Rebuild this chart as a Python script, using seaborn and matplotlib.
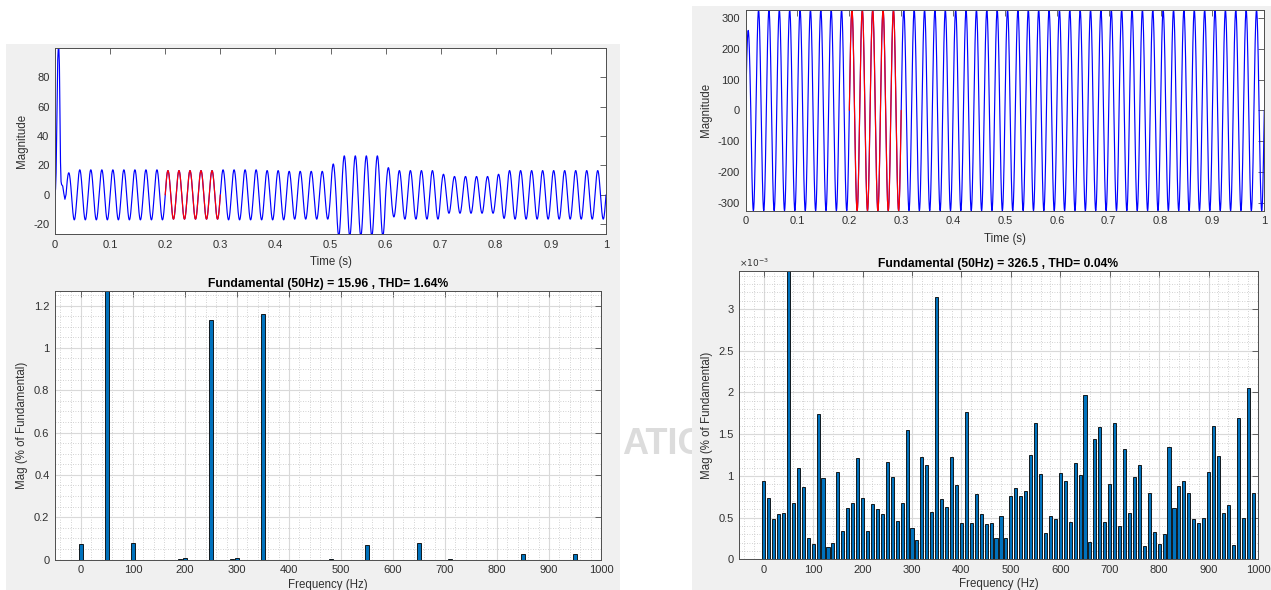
import numpy as np
import pandas as pd
import matplotlib
matplotlib.use("Agg")
import matplotlib.pyplot as plt
from matplotlib.patches import Rectangle
from matplotlib.ticker import MultipleLocator
import seaborn as sns

sns.set_theme(style="white")
plt.rcParams['font.family'] = ['Liberation Sans', 'DejaVu Sans']
plt.rcParams['axes.unicode_minus'] = False

# ---------------- data ----------------
# left signal: transient during the first cycle (t, value)
t_left_start = [0.000, 0.001, 0.002, 0.003, 0.004, 0.005, 0.006, 0.007, 0.008,
                0.009, 0.010, 0.011, 0.012, 0.014, 0.016, 0.018, 0.020]
y_left_start = [0, 4, 15, 40, 70, 92, 100, 100, 88, 55, 22, 9, 7, 6, 1, -3, 0]

# per-cycle (20 ms) peak / trough amplitudes, cycles 0..49 (cycle 0 = transient)
left_pos = [0, 15, 17, 17, 17, 17, 17, 17, 17, 17,
            16.5, 16.5, 16.5, 16.5, 16.5, 17, 17, 17, 17, 16.5,
            16.5, 16, 16, 16, 16, 21, 26.5, 26.5, 26.5, 26.5,
            18.5, 16.5, 16.5, 16.5, 16.5, 14, 12.5, 12.5, 12.5, 12.5,
            14, 16.5, 16.5, 16.5, 16.5, 16.5, 16.5, 16.5, 16.5, 16.5]
left_neg = [0, 17, 17, 17, 17, 17, 17, 17, 17, 17,
            16.5, 16.5, 16.5, 16.5, 16.5, 17, 17, 17, 17, 17,
            17, 16.5, 16.5, 16.5, 16.5, 28, 28, 28, 28, 28,
            15, 16.5, 16.5, 16.5, 16.5, 12.5, 12.5, 12.5, 12.5, 12.5,
            16, 16.5, 16.5, 16.5, 16.5, 16.5, 16.5, 16.5, 16.5, 16.5]

right_pos = [260] + [326.5] * 49
right_neg = [326.5] * 50

# FFT spectra (% of fundamental), 50 Hz fundamental is off-scale
left_freq = [0, 50, 100, 190, 200, 250, 290, 300, 350, 480, 550, 650, 710, 850, 950]
left_mag = [0.074, 100, 0.080, 0.004, 0.006, 1.131, 0.004, 0.006, 1.161,
            0.003, 0.068, 0.076, 0.004, 0.025, 0.028]

right_freq = list(range(0, 1000, 10))
right_mag_e3 = [0.94, 0.74, 0.48, 0.54, 0.56, 100000, 0.68, 1.10, 0.87, 0.25,
                0.18, 1.74, 0.98, 0.15, 0.19, 1.05, 0.34, 0.61, 0.68, 1.22,
                0.74, 0.34, 0.66, 0.60, 0.54, 1.17, 0.99, 0.46, 0.68, 1.55,
                0.37, 0.23, 1.23, 1.13, 0.57, 3.15, 0.72, 0.63, 1.23, 0.89,
                0.43, 1.76, 0.44, 0.78, 0.54, 0.42, 0.44, 0.26, 0.52, 0.25,
                0.76, 0.85, 0.76, 0.82, 1.25, 1.64, 1.02, 0.31, 0.52, 0.48,
                1.04, 0.94, 0.45, 1.15, 1.01, 1.97, 0.21, 1.44, 1.59, 0.45,
                0.90, 1.63, 0.40, 1.32, 0.55, 0.99, 1.13, 0.16, 0.80, 0.33,
                0.18, 0.30, 1.35, 0.62, 0.88, 0.94, 0.79, 0.48, 0.44, 0.50,
                1.05, 1.60, 1.24, 0.55, 0.65, 0.17, 1.70, 0.49, 2.05, 0.80]

left_title = "Fundamental (50Hz) = 15.96 , THD= 1.64%"
right_title = "Fundamental (50Hz) = 326.5 , THD= 0.04%"

# ---------------- build waveforms from cycle amplitudes ----------------
FS = 20000
F0 = 50


def waveform(pos, neg, start_cycle):
    t = np.arange(start_cycle * FS // F0, FS + 1) / FS
    s = np.sin(2 * np.pi * F0 * t)
    k = np.minimum((t * F0).astype(int), len(pos) - 1)
    amp = np.where(s > 0, np.take(pos, k), np.take(neg, k))
    return t, s * amp


t1, y1 = waveform(left_pos, left_neg, 1)
df_left = pd.DataFrame({"t": np.concatenate([t_left_start, t1]),
                        "y": np.concatenate([y_left_start, y1])})
t2, y2 = waveform(right_pos, right_neg, 0)
df_right = pd.DataFrame({"t": t2, "y": y2})

# ---------------- figure ----------------
fig = plt.figure(figsize=(12.71, 5.90), dpi=100)
fig.patch.set_facecolor("white")
fig.patches.append(Rectangle((6 / 1271, 0), 614 / 1271, 546 / 590, transform=fig.transFigure,
                             facecolor="#f0f0f0", edgecolor="none", zorder=-3))
fig.patches.append(Rectangle((692 / 1271, 0), 579 / 1271, 584 / 590, transform=fig.transFigure,
                             facecolor="#f0f0f0", edgecolor="none", zorder=-3))
fig.text(622 / 1271, 1 - 445 / 590, "ATIC", fontsize=26, weight="bold",
         color="#dcdcdc", va="center", ha="left", zorder=-4)

FS_TICK = 8
FS_LAB = 8.3
FS_TITLE = 8.7
EDGE = "#4d4d4d"


def style(ax):
    ax.set_facecolor("white")
    for sp in ax.spines.values():
        sp.set_color(EDGE)
        sp.set_linewidth(0.7)
    ax.tick_params(which="major", direction="in", length=4, width=0.6, color=EDGE,
                   top=True, right=True, labelsize=FS_TICK, labelcolor="#303030", pad=4)
    ax.tick_params(which="minor", length=0)


def time_plot(rect, df, red_df, ylim, yticks):
    ax = fig.add_axes(rect, zorder=1)
    sns.lineplot(data=df, x="t", y="y", color="#0000ff", lw=0.85, estimator=None, ax=ax)
    sns.lineplot(data=red_df, x="t", y="y", color="#ff0000", lw=0.85, estimator=None, ax=ax)
    ax.set_xlim(0, 1)
    ax.set_ylim(*ylim)
    ax.set_xticks(np.round(np.arange(0, 1.01, 0.1), 1))
    ax.set_xticklabels(["0"] + [f"{v:.1f}" for v in np.arange(0.1, 0.95, 0.1)] + ["1"])
    ax.set_yticks(yticks)
    ax.set_xlabel("Time (s)", fontsize=FS_LAB, color="#303030", labelpad=4.5)
    ax.set_ylabel("Magnitude", fontsize=FS_LAB, color="#303030")
    style(ax)
    return ax


def red_part(df):
    return df[(df.t >= 0.2) & (df.t <= 0.3)]


time_plot([55 / 1271, 1 - 234 / 590, 551 / 1271, 186.3 / 590], df_left, red_part(df_left),
          (-26.6, 100), [-20, 0, 20, 40, 60, 80])
time_plot([745.6 / 1271, 1 - 210.7 / 590, 518.7 / 1271, 200.7 / 590], df_right, red_part(df_right),
          (-326.5, 326.5), list(range(-300, 301, 100)))


def fft_plot(rect, freq, mag, ylim, yticks, yticklabels, title, ymin_step, bar_w):
    ax = fig.add_axes(rect, zorder=1)
    sns.barplot(x=freq, y=mag, native_scale=True, width=bar_w, color="#0072bd", saturation=1,
                edgecolor="black", linewidth=0.6, errorbar=None, ax=ax)
    ax.set_xlim(-50, 1000)
    ax.set_ylim(*ylim)
    ax.set_xticks(range(0, 1001, 100))
    ax.set_xticklabels([str(v) for v in range(0, 1001, 100)])
    ax.set_yticks(yticks)
    ax.set_yticklabels(yticklabels)
    ax.xaxis.set_minor_locator(MultipleLocator(20))
    ax.yaxis.set_minor_locator(MultipleLocator(ymin_step))
    ax.set_axisbelow(True)
    ax.grid(which="major", color="#d9d9d9", lw=0.8, ls="-")
    ax.grid(which="minor", color="#c4c4c4", lw=0.6, ls=(0, (1, 2)))
    ax.set_xlabel("Frequency (Hz)", fontsize=FS_LAB, color="#303030", labelpad=2.5)
    ax.set_ylabel("Mag (% of Fundamental)", fontsize=FS_LAB, color="#303030")
    ax.set_title(title, fontsize=FS_TITLE, weight="bold", color="black", pad=2.5)
    style(ax)
    return ax


fft_plot([55 / 1271, 1 - 559.5 / 590, 546 / 1271, 268.8 / 590], left_freq, left_mag,
         (0, 1.27), [0, 0.2, 0.4, 0.6, 0.8, 1.0, 1.2],
         ["0", "0.2", "0.4", "0.6", "0.8", "1", "1.2"], left_title, 0.05, 0.8)

right_mag = [v * 1e-3 for v in right_mag_e3]
ax4 = fft_plot([739 / 1271, 1 - 559.3 / 590, 519 / 1271, 288.6 / 590], right_freq, right_mag,
               (0, 3.46e-3), [i * 0.5e-3 for i in range(7)],
               ["0", "0.5", "1", "1.5", "2", "2.5", "3"], right_title, 0.1e-3, 0.62)
ax4.text(0, 1.005, r"$\times10^{-3}$", transform=ax4.transAxes, fontsize=6.5,
         color="#303030", ha="left", va="bottom")

plt.savefig("out.png", dpi=100)
